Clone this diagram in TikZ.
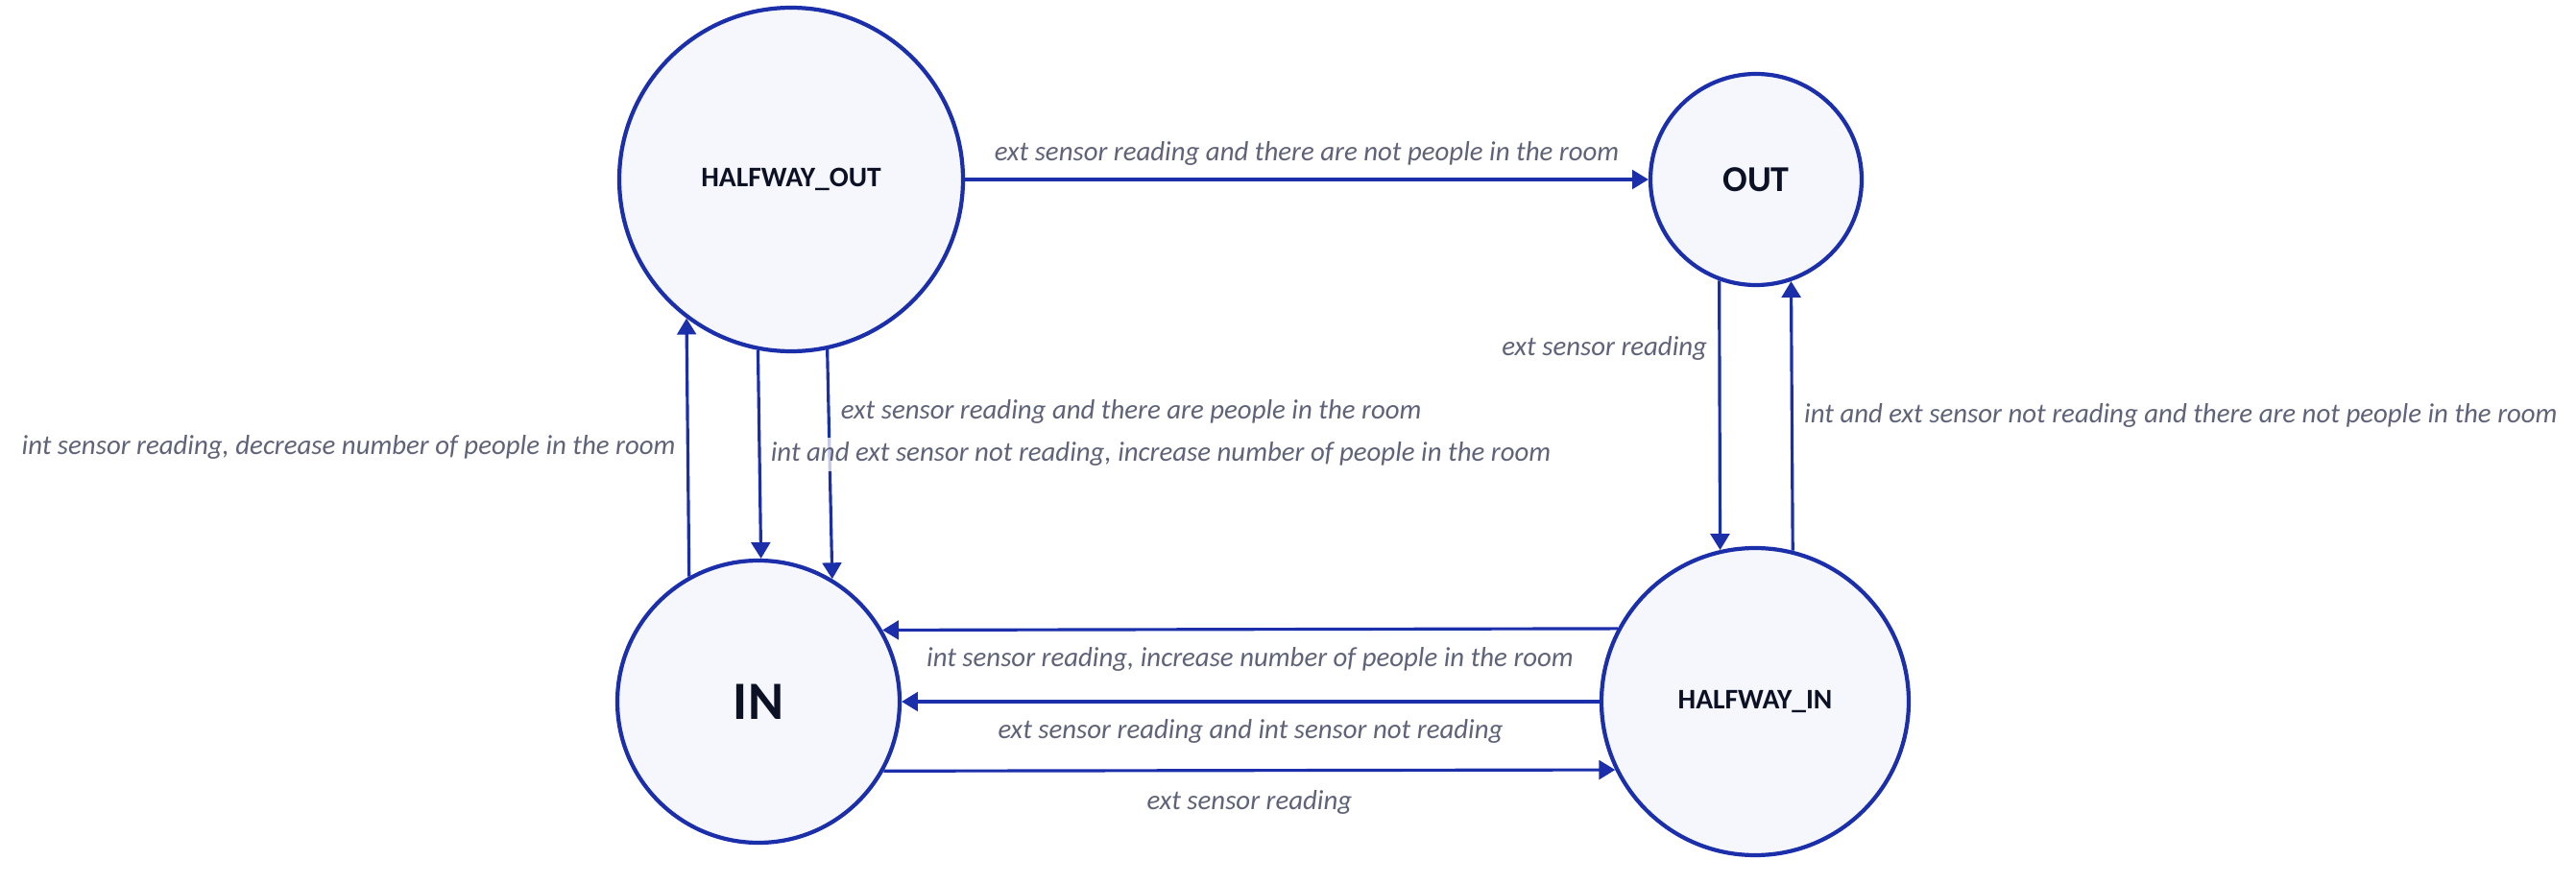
\documentclass[tikz,border=0pt]{standalone}
\usepackage{fontspec}
\setmainfont{Carlito}
\usepackage{xcolor}
\usepackage{tikz}
\usetikzlibrary{arrows.meta}

\definecolor{edgeblue}{HTML}{1B2FAB}
\definecolor{statefill}{HTML}{F5F7FC}
\definecolor{statetext}{HTML}{0C1126}
\definecolor{labelgray}{HTML}{5F6379}

\tikzset{
	state/.style={circle, draw=edgeblue, fill=statefill, line width=1.2pt, inner sep=0, text=statetext, font=\bfseries\fontsize{8.4}{10}\selectfont},
	trans/.style={draw=edgeblue, line width=0.9pt, -{Triangle[length=4.8pt, width=5.6pt]}},
	lbl/.style={font=\itshape\fontsize{8.2}{10}\selectfont, text=labelgray, fill=white, fill opacity=0.75, text opacity=1, inner sep=1.5pt},
}

\begin{document}
\begin{tikzpicture}
	\useasboundingbox (0, 0) rectangle (26.83, 9.2);
	\fill[white] (0, 0) rectangle (26.83, 9.2);
	% States:
	\node[state, minimum size=3.58cm] (HO) at (8.24, 7.33) {HALFWAY\_OUT};
	\node[state, minimum size=2.2cm, font=\bfseries\fontsize{10.8}{13}\selectfont] (OUT) at (18.29, 7.33) {OUT};
	\node[state, minimum size=2.94cm, font=\bfseries\fontsize{16}{19}\selectfont] (IN) at (7.9, 1.89) {IN};
	\node[state, minimum size=3.2cm] (HI) at (18.28, 1.89) {HALFWAY\_IN};
	% Transitions and their labels:
	\draw[trans] (HO.east) -- node[lbl, yshift=0.27cm]{ext sensor reading and there are not people in the room} (OUT.west);
	\draw[trans] (OUT.250.35) -- node[lbl, pos=0.25, anchor=east, xshift=-0.06cm]{ext sensor reading} (HI.103);
	\draw[trans] (HI.76.6) -- node[lbl, anchor=west, xshift=0.06cm]{int and ext sensor not reading and there are not people in the room} (OUT.289.1);
	\draw[trans] (IN.119.3) -- node[lbl, anchor=east, xshift=-0.06cm]{int sensor reading, decrease number of people in the room} (HO.233.7);
	\draw[trans] (HO.282.9) -- node[lbl, pos=0.27, anchor=west, xshift=0.06cm]{ext sensor reading and there are people in the room} (IN.59.8);
	\draw[trans] (HO.259.7) -- node[lbl, anchor=west, xshift=0.05cm]{int and ext sensor not reading, increase number of people in the room} (IN.89.2);
	\draw[trans] (HI.152.45) -- node[lbl, yshift=-0.31cm]{int sensor reading, increase number of people in the room} (IN.30.22);
	\draw[trans] (HI.west) -- node[lbl, yshift=-0.31cm]{ext sensor reading and int sensor not reading} (IN.east);
	\draw[trans] (IN.331.12) -- node[lbl, yshift=-0.33cm]{ext sensor reading} (HI.206.35);
\end{tikzpicture}
\end{document}
